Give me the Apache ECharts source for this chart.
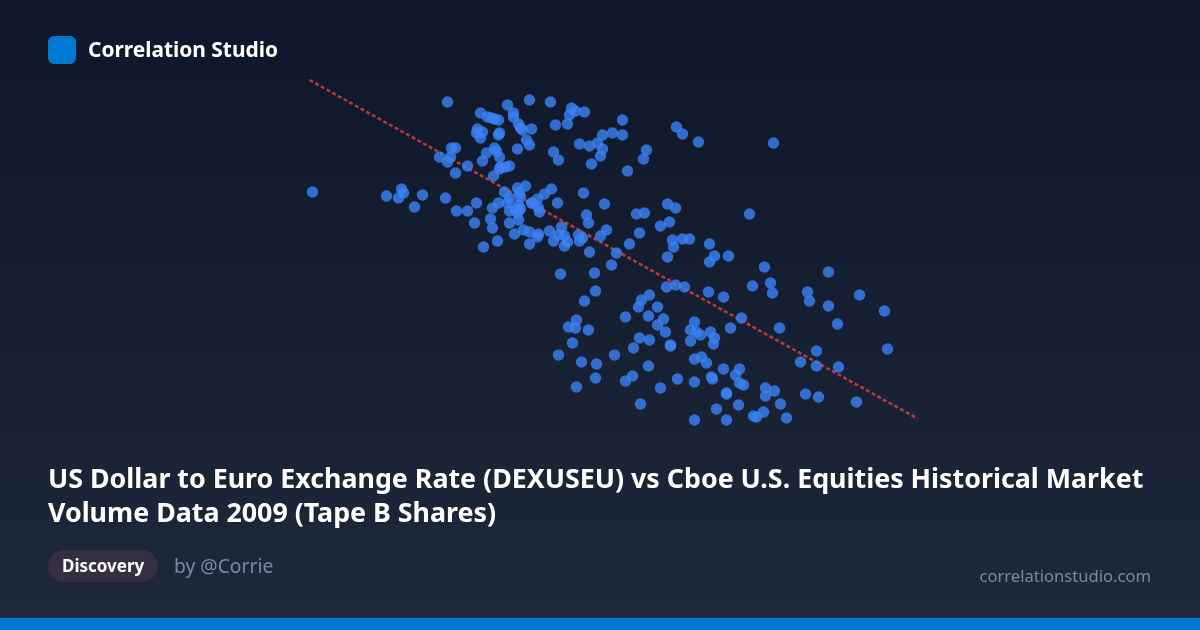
<!DOCTYPE html>
<html>
<head>
<meta charset="utf-8">
<style>html,body{margin:0;padding:0;background:#0f172a}#c{width:1200px;height:630px}</style>
<script src="https://cdn.jsdelivr.net/npm/echarts@6/dist/echarts.min.js"></script>
</head>
<body>
<div id="c"></div>
<script>
// USD/EUR rate (x) and Tape B volume (y), point by point
const rateValues = [
1.3235,1.3645,1.3535,1.3750,1.3855,1.3920,1.3875,1.3845,1.3400,1.3565,1.3565,1.3455,1.3490,1.3435,1.3470,1.3775,1.3835,1.3590,1.3600,1.3655,1.3610,1.3385,1.3410,1.3380,1.3400,1.3495,1.3490,1.3630,1.3645,1.3585,1.3895,1.3945,1.3985,1.3765,1.3790,1.3955,1.3470,1.3480,1.3430,1.3495,1.3410,1.3275,1.3255,1.3250,1.3195,1.3235,1.3335,1.3545,1.3525,1.3500,1.3495,1.3275,1.3465,
1.2560,1.3005,1.3015,1.2990,1.2930,1.3110,1.3070,1.3225,1.3280,1.3335,1.3380,1.3460,1.3490,1.3520,1.3545,1.3535,1.3585,1.3625,1.3595,1.3600,1.3755,1.3720,1.3685,1.3655,1.3660,1.3590,1.3690,1.3695,1.3545,1.3575,1.3590,1.3600,1.3585,1.3590,1.3785,1.3915,1.3930,1.3940,1.3450,1.3370,1.3545,1.3460,1.3805,1.3615,1.3645,1.3690,1.3685,1.3745,1.3570,1.3485,1.3415,1.3645,1.3765,1.3790,1.3820,1.3835,1.3820,1.3890,1.3910,1.3895,1.3945,1.4000,1.4020,1.4010,1.4010,
1.4110,1.4060,1.4110,1.4380,1.4410,1.4490,1.4865,1.4230,1.4215,1.4000,1.4135,1.4335,1.4375,1.4180,1.4220,1.4345,1.4300,1.4745,1.4030,1.4195,1.4145,1.4360,1.4410,1.4445,1.4365,1.4545,1.4080,1.4570,1.4640,1.4335,1.4545,
1.3800,1.3970,1.4055,1.3975,1.3920,1.4330,1.4375,1.4420,1.4540,1.4615,1.4245,1.4205,1.4190,1.4285,1.4240,1.4125,1.4315,1.4285,1.4325,1.3880,1.3840,1.3875,1.3940,1.3860,1.4195,1.4245,1.4165,1.4350,1.4350,1.4470,1.4450,1.4480,1.4500,1.4550,1.4570,1.4450,1.4565,1.4650,1.4505,1.4470,1.4530,1.3790,1.3905,1.3980,1.4070,1.3975,1.3880,1.4240,1.4160,1.4125,1.4300,1.4385,1.4470,1.4615,1.4555,1.4560,1.4695,1.4675,1.4695,1.4630,1.4630,1.4200,1.4580,1.4690,1.4470,1.4630,
1.4820,1.5140,1.4760,1.4850,1.4860,1.5035,1.5045,1.5140,1.5295,1.5420,1.5185,1.4705,1.4895,1.5080,1.5000,1.5080,1.5190,1.5435,1.4715,1.4825,1.4825,1.4870,1.5025,1.5090,1.5280,1.4900,1.4815,1.4765,1.4780,1.4930
];
const volumeValues = [
3.38,3.40,3.35,3.38,3.32,3.28,3.29,3.25,3.27,3.27,3.23,3.22,3.20,3.23,3.21,3.15,3.16,3.16,3.12,3.11,3.10,3.11,3.08,3.07,3.02,3.07,3.05,3.00,2.95,2.91,2.96,2.94,2.97,2.88,2.80,2.76,2.92,2.89,2.87,2.83,2.79,2.92,2.92,2.83,2.83,2.78,2.74,2.74,2.73,2.73,2.71,2.67,2.64,
2.48,2.51,2.47,2.42,2.44,2.45,2.33,2.42,2.29,2.29,2.37,2.32,2.37,2.48,2.42,2.37,2.52,2.54,2.47,2.43,2.51,2.46,2.41,2.37,2.37,2.35,2.32,2.28,2.29,2.30,2.29,2.31,2.27,2.20,2.37,2.47,2.25,2.17,2.21,2.17,2.17,2.12,2.13,2.10,2.08,2.06,2.03,2.09,2.06,1.99,1.93,1.96,1.99,2.05,2.04,1.98,1.94,2.05,2.02,1.99,1.88,2.04,2.36,2.91,3.05,
3.20,3.07,3.05,3.13,3.06,2.98,2.97,2.90,2.81,2.84,2.69,2.36,2.32,2.26,2.27,2.18,2.14,2.26,2.10,2.07,1.96,2.00,2.01,2.01,1.93,1.96,1.87,1.84,1.84,1.83,1.78,
1.66,1.67,1.75,1.49,1.39,1.53,1.55,1.53,1.48,1.43,1.45,1.40,1.33,1.33,1.24,1.23,1.21,1.15,1.08,1.20,1.13,1.12,1.10,0.97,1.02,1.00,0.92,0.95,0.94,1.18,1.10,1.08,1.05,1.08,1.02,0.99,0.96,1.12,0.83,0.81,0.77,0.85,0.78,0.76,0.85,0.62,0.53,0.74,0.64,0.59,0.52,0.61,0.58,0.71,0.63,0.61,0.71,0.65,0.57,0.47,0.46,0.36,0.31,0.35,0.20,0.20,
1.73,1.68,1.54,1.57,1.47,1.48,1.39,1.34,1.45,1.29,1.16,1.22,1.12,0.89,0.78,0.74,0.73,0.91,0.55,0.52,0.44,0.49,0.46,0.43,0.38,0.36,0.28,0.24,0.23,0.22
];
const trendRates = [1.2545, 1.5585];
const trendVolumes = [3.60, 0.215];

const brandName = 'Correlation Studio';
const titleLines = ['US Dollar to Euro Exchange Rate (DEXUSEU) vs Cboe U.S. Equities Historical Market', 'Volume Data 2009 (Tape B Shares)'];
const tagText = 'Discovery';
const authorText = 'by @Corrie';
const siteText = 'correlationstudio.com';

const FONT = '"Noto Sans", sans-serif';
function label(text, x, y, font, fill, align) {
  return {type: 'text', x: x, y: y, style: {text: text, fill: fill, font: font + ' ' + FONT, textAlign: align || 'left', textVerticalAlign: 'middle'}};
}
const chart = echarts.init(document.getElementById('c'), null, {renderer: 'canvas', width: 1200, height: 630});
chart.setOption({
  animation: false,
  backgroundColor: {type: 'linear', x: 0, y: 0, x2: 0, y2: 1, colorStops: [{offset: 0, color: '#0f172a'}, {offset: 1, color: '#1e293b'}]},
  grid: {left: 300.5, top: 40, width: 700, height: 400},
  xAxis: {type: 'value', min: 1.25, max: 1.6, show: false},
  yAxis: {type: 'value', min: 0, max: 4, show: false},
  series: [
    {type: 'scatter', name: 'Tape B Shares', symbol: 'circle', symbolSize: 11.5,
     data: rateValues.map((r, i) => [r, volumeValues[i]]),
     itemStyle: {color: '#3b82f6', opacity: 0.8}, z: 3},
    {type: 'line', name: 'Trend', symbol: 'none', silent: true,
     data: trendRates.map((r, i) => [r, trendVolumes[i]]),
     lineStyle: {color: '#ef4444', width: 2.5, type: [4, 2.5], opacity: 0.75}, z: 2}
  ],
  graphic: [
    {type: 'rect', x: 48, y: 36, shape: {width: 28, height: 28, r: 6}, style: {fill: '#0078d4'}},
    label(brandName, 88, 51, 'bold 20.9px', '#ffffff'),
    label(titleLines[0], 48, 480.5, 'bold 26.8px', '#ffffff'),
    label(titleLines[1], 48, 514.5, 'bold 26.8px', '#ffffff'),
    {type: 'rect', x: 48, y: 550, shape: {width: 110, height: 32, r: 16}, style: {fill: '#352f41'}},
    label(tagText, 62, 567.5, 'bold 17px', '#ffffff'),
    label(authorText, 174, 567.5, '19.3px', '#7a8aa3'),
    label(siteText, 1151, 577, '16.6px', '#7a8aa3', 'right'),
    {type: 'rect', x: 0, y: 618, shape: {width: 1200, height: 12}, style: {fill: '#0078d4'}}
  ]
});
</script>
</body>
</html>
